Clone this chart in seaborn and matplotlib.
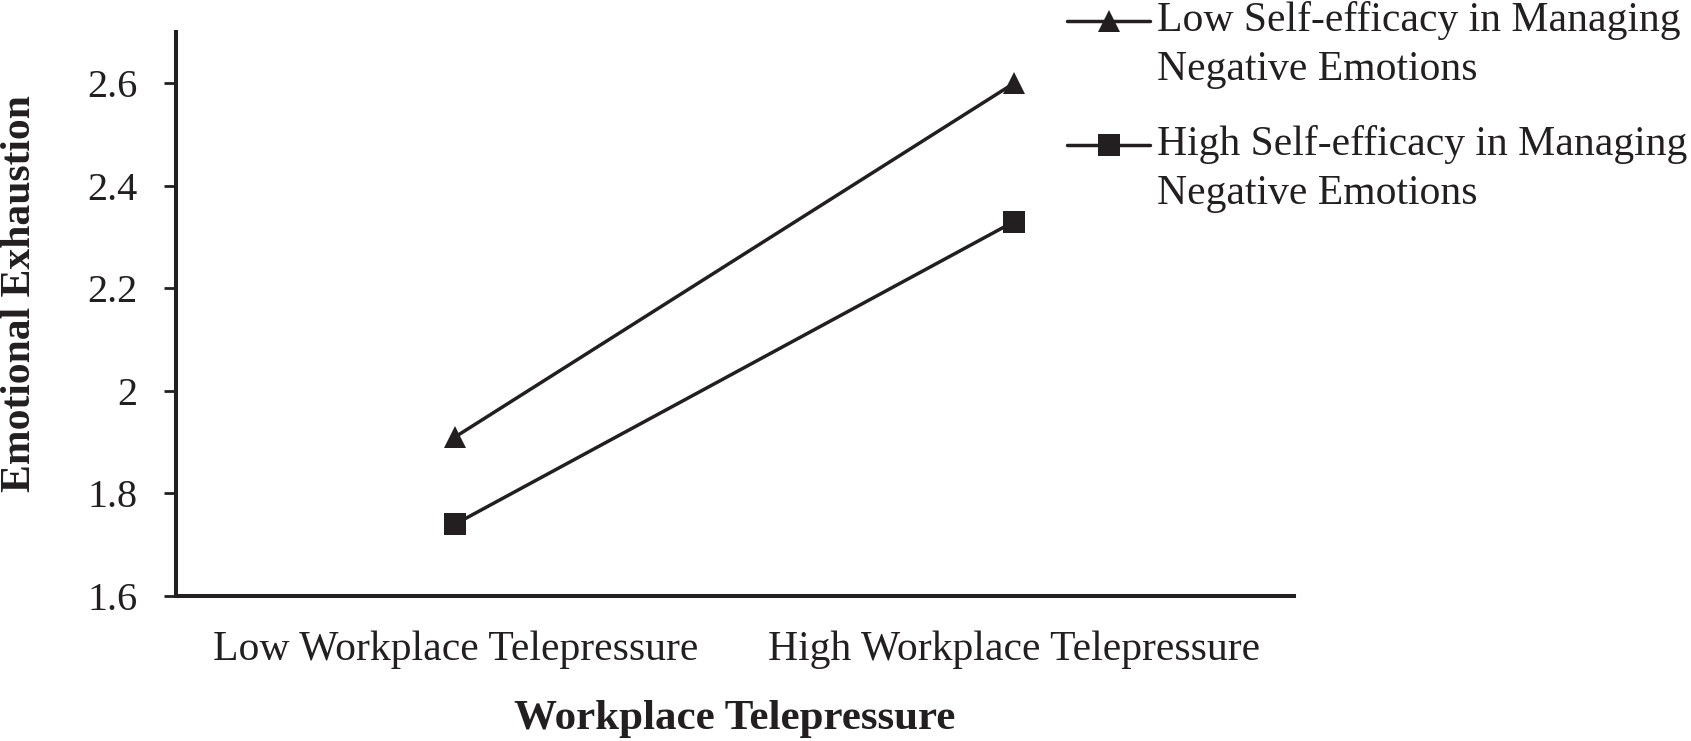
import numpy as np
import pandas as pd
import matplotlib
matplotlib.use("Agg")
import matplotlib.pyplot as plt
import seaborn as sns
from matplotlib.legend_handler import HandlerLine2D
from matplotlib.ticker import FuncFormatter

# ---- data ----
telepressure = ["Low Workplace Telepressure", "High Workplace Telepressure"]
efficacy_groups = ["Low Self-efficacy in Managing Negative Emotions",
                   "High Self-efficacy in Managing Negative Emotions"]
low_efficacy = [1.91, 2.60]
high_efficacy = [1.74, 2.33]
legend_labels = ["Low Self-efficacy in Managing\nNegative Emotions",
                 "High Self-efficacy in Managing\nNegative Emotions"]
y_ticks = [1.6, 1.8, 2.0, 2.2, 2.4, 2.6]

df = pd.DataFrame({
    "telepressure": telepressure * 2,
    "efficacy": [efficacy_groups[0]] * 2 + [efficacy_groups[1]] * 2,
    "exhaustion": low_efficacy + high_efficacy,
})

INK = "#231f20"
sns.set_theme(style="white")
plt.rcParams["font.family"] = ["Liberation Serif", "DejaVu Serif"]
plt.rcParams["text.color"] = INK
plt.rcParams["axes.labelcolor"] = INK
plt.rcParams["xtick.color"] = INK
plt.rcParams["ytick.color"] = INK

fig = plt.figure(figsize=(16.91, 7.41), dpi=100)
ax = fig.add_axes([0.104, 0.196, 0.765 - 0.104, 0.957 - 0.196])

sns.pointplot(data=df, x="telepressure", y="exhaustion", hue="efficacy",
              order=telepressure, hue_order=efficacy_groups,
              palette=[INK, INK], markers=["^", "s"], linestyles=["-", "-"],
              errorbar=None, markersize=15.5, linewidth=2.5,
              markeredgewidth=0, legend=False, ax=ax)

ax.set_xlim(-0.5, 1.5)
ax.set_ylim(1.6, 2.7)
ax.set_yticks(y_ticks)
ax.yaxis.set_major_formatter(FuncFormatter(lambda v, p: f"{v:g}"))
ax.set_xticks([-0.5, 0.5, 1.5])
ax.set_xticklabels([])
ax.set_xticks([0, 1], minor=True)
ax.set_xticklabels(telepressure, minor=True)
ax.tick_params(axis="x", which="major", direction="out", length=9, width=2.0, colors=INK)
ax.tick_params(axis="x", which="minor", length=0, pad=25, labelsize=30)
ax.tick_params(axis="y", which="major", direction="out", length=9, width=2.0, pad=18.5, labelsize=29, left=True)

for s in ["top", "right"]:
    ax.spines[s].set_visible(False)
for s in ["left", "bottom"]:
    ax.spines[s].set_color(INK)
    ax.spines[s].set_linewidth(2.9)

ax.set_xlabel("Workplace Telepressure", fontsize=31, fontweight="bold")
ax.set_ylabel("Emotional Exhaustion", fontsize=30, fontweight="bold")
ax.xaxis.set_label_coords(0.5, -0.185)
ax.yaxis.set_label_coords(-0.122, 0.536)


class TopLineHandler(HandlerLine2D):
    def __init__(self, dy, **kw):
        super().__init__(**kw)
        self.dy = dy

    def create_artists(self, legend, orig_handle, xdescent, ydescent, width,
                       height, fontsize, trans):
        arts = super().create_artists(legend, orig_handle, xdescent, ydescent,
                                      width, height, fontsize, trans)
        for a in arts:
            a.set_ydata(np.asarray(a.get_ydata(), dtype=float) + self.dy)
        return arts


handles = ax.lines[:2]
leg = fig.legend(handles, legend_labels, loc="upper left",
                 bbox_to_anchor=(1067 / 1691, 0.999), frameon=False, borderpad=0,
                 borderaxespad=0, handlelength=2.0, handletextpad=0.17,
                 labelspacing=0.88, fontsize=30,
                 handler_map={h: TopLineHandler(dy=17.5) for h in handles})
for t in leg.get_texts():
    t.set_linespacing(1.35)

fig.savefig("out.png", dpi=100)
